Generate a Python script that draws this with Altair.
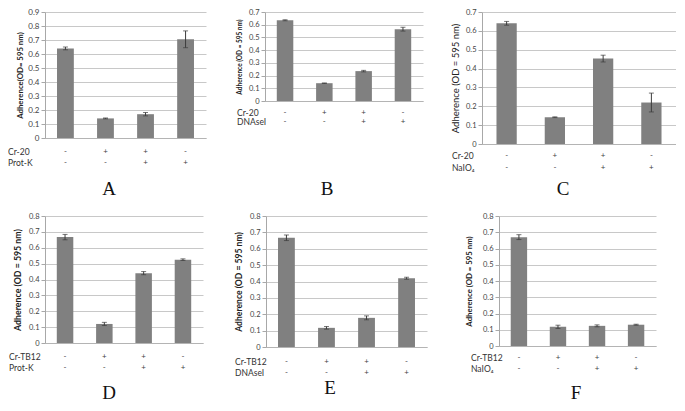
import altair as alt
import pandas as pd

FONT = "Lato"

# ---- data ----
conds = ["c1", "c2", "c3", "c4"]
cr_signs = ["-", "+", "+", "-"]
tr_signs = ["-", "-", "+", "+"]

a_vals = [0.640, 0.140, 0.170, 0.705]
a_errs = [0.010, 0.003, 0.012, 0.060]
b_vals = [0.635, 0.140, 0.235, 0.565]
b_errs = [0.004, 0.002, 0.006, 0.015]
c_vals = [0.640, 0.142, 0.453, 0.220]
c_errs = [0.010, 0.002, 0.018, 0.050]
d_vals = [0.667, 0.120, 0.440, 0.525]
d_errs = [0.017, 0.010, 0.010, 0.005]
e_vals = [0.667, 0.117, 0.178, 0.420]
e_errs = [0.017, 0.008, 0.012, 0.006]
f_vals = [0.670, 0.118, 0.124, 0.131]
f_errs = [0.015, 0.010, 0.006, 0.003]

row_names_top = [("Cr-20", "Prot-K"), ("Cr-20", "DNAseI"), ("Cr-20", "NaIO₄")]
row_names_bottom = [("Cr-TB12", "Prot-K"), ("Cr-TB12", "DNAseI"), ("Cr-TB12", "NaIO₄")]
y_titles = ["Adherence(OD= 595 nm)", "Adherence (OD = 595 nm)", "Adherence (OD = 595 nm)",
            "Adherence (OD = 595 nm)", "Adherence (OD = 595 nm)", "Adherence (OD = 595 nm)"]
letters = ["A", "B", "C", "D", "E", "F"]
y_max = [0.9, 0.7, 0.7, 0.8, 0.8, 0.8]

# ---- layout (pixels) ----
geo = [
    dict(w=161, h=126, nx=-37, r=(13.5, 25), lx=64, ly=177, ts=7.8, tx=-25, tw="bold", lf=8),
    dict(w=158, h=89, nx=-28, r=(11.5, 20.5), lx=62, ly=177, ts=6.5, tx=-25.5, tw="bold", lf=7.5),
    dict(w=194, h=132, nx=-30, r=(12, 23.5), lx=81, ly=177, ts=9.5, tx=-27, tw="normal", lf=7.5),
    dict(w=158, h=127, nx=-36, r=(14, 24.5), lx=64, ly=177, ts=8.8, tx=-28, tw="bold", lf=7.5),
    dict(w=161, h=131, nx=-31, r=(14.5, 26), lx=64, ly=172, ts=8.6, tx=-27.5, tw="bold", lf=7.5),
    dict(w=157, h=130, nx=-28, r=(12, 22.5), lx=77, ly=177, ts=7.8, tx=-30, tw="bold", lf=7.5),
]


def panel(vals, errs, names, ytitle, letter, ymax, g):
    df = pd.DataFrame({
        "cond": conds,
        "v": vals,
        "lo": [v - e for v, e in zip(vals, errs)],
        "hi": [v + e for v, e in zip(vals, errs)],
        "s1": cr_signs,
        "s2": tr_signs,
    })
    h = g["h"]
    ticks = [round(i * 0.1, 1) for i in range(int(round(ymax * 10)) + 1)]
    xenc = alt.X("cond:N", sort=conds,
                 scale=alt.Scale(paddingInner=0.58, paddingOuter=0.3),
                 axis=alt.Axis(title=None, labels=False, ticks=False, grid=False,
                               domainColor="#b4b4b4", domainWidth=1))
    yscale = alt.Scale(domain=[0, ymax], nice=False)
    yaxis = alt.Axis(values=ticks, tickCount=len(ticks), format=".1~f", title=ytitle,
                     grid=True, gridColor="#c8c8c8", gridWidth=1, domainColor="#a8a8a8",
                     tickColor="#a8a8a8", tickSize=4, labelPadding=2,
                     labelFontSize=g["lf"], labelColor="#444444", labelFont=FONT,
                     labelOverlap=False,
                     titleFont=FONT, titleFontSize=g["ts"], titleFontWeight=g["tw"],
                     titleColor="#222222", titleX=g["tx"], titleY=h / 2,
                     titleAngle=270, titleAlign="center", titleBaseline="middle")
    base = alt.Chart(df)
    bars = base.mark_bar(color="#808080").encode(
        x=xenc, y=alt.Y("v:Q", scale=yscale, axis=yaxis))
    err = base.mark_errorbar(ticks={"size": 5}, color="#3c3c3c", thickness=1).encode(
        x=alt.X("cond:N", sort=conds),
        y=alt.Y("lo:Q", scale=yscale, axis=yaxis),
        y2="hi:Q")
    s1 = base.mark_text(fontSize=8, color="#444444", font=FONT).encode(
        x=alt.X("cond:N", sort=conds), y=alt.value(h + g["r"][0]), text="s1:N")
    s2 = base.mark_text(fontSize=8, color="#444444", font=FONT).encode(
        x=alt.X("cond:N", sort=conds), y=alt.value(h + g["r"][1]), text="s2:N")
    n1 = alt.Chart(pd.DataFrame({"n": [names[0]]})).mark_text(
        align="left", fontSize=8.5, color="#333333", font=FONT).encode(
        x=alt.value(g["nx"]), y=alt.value(h + g["r"][0]), text="n:N")
    n2 = alt.Chart(pd.DataFrame({"n": [names[1]]})).mark_text(
        align="left", fontSize=8.5, color="#333333", font=FONT).encode(
        x=alt.value(g["nx"]), y=alt.value(h + g["r"][1]), text="n:N")
    let = alt.Chart(pd.DataFrame({"t": [letter]})).mark_text(
        fontSize=19, font="Liberation Serif", color="#111111").encode(
        x=alt.value(g["lx"]), y=alt.value(g["ly"]), text="t:N")
    return alt.layer(bars, err, s1, s2, n1, n2, let).properties(width=g["w"], height=h)


all_vals = [a_vals, b_vals, c_vals, d_vals, e_vals, f_vals]
all_errs = [a_errs, b_errs, c_errs, d_errs, e_errs, f_errs]
all_names = row_names_top + row_names_bottom

p = [panel(all_vals[i], all_errs[i], all_names[i], y_titles[i], letters[i], y_max[i], geo[i])
     for i in range(6)]

top = alt.hconcat(p[0], p[1], p[2], spacing=59, bounds="flush")
ef = alt.hconcat(p[4], p[5], spacing=72, bounds="flush")
bottom = alt.hconcat(p[3], ef, spacing=31)
chart = alt.vconcat(top, bottom, spacing=13).properties(
    padding=0, background="white"
).configure_view(strokeWidth=0)

chart.save("out.html", embed_options={"renderer": "svg", "actions": False})
